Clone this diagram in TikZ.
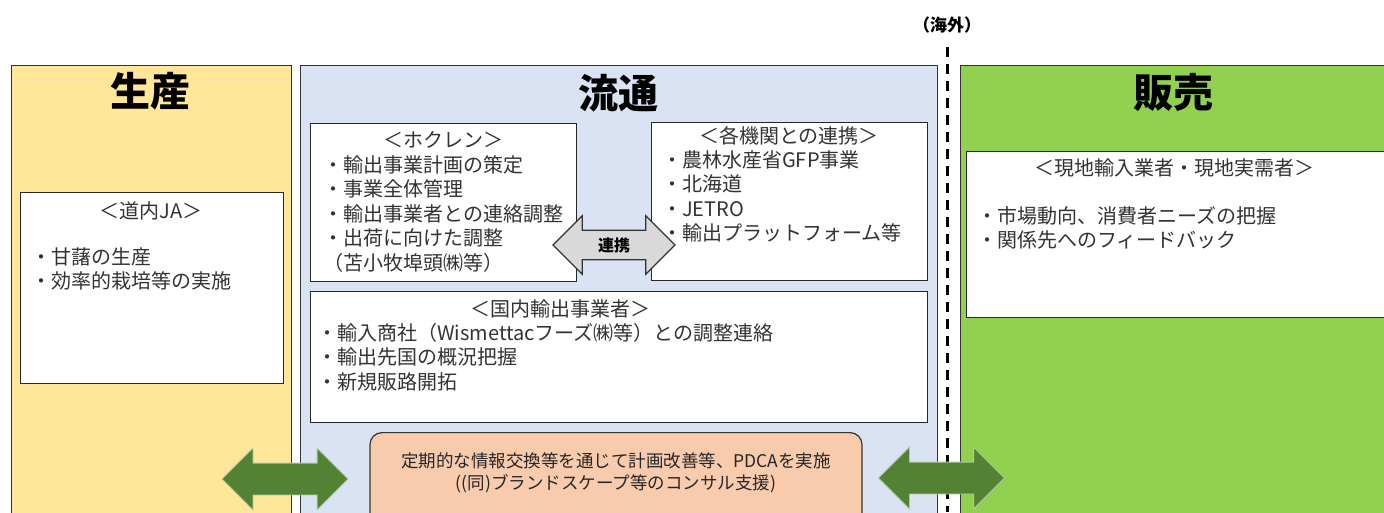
\documentclass[tikz,border=0pt]{standalone}
\usepackage{fontspec}
\setmainfont{Noto Sans CJK JP}
\usetikzlibrary{shapes.arrows,positioning}
\definecolor{prodyellow}{HTML}{FFE699}
\definecolor{distblue}{HTML}{DAE3F3}
\definecolor{salegreen}{HTML}{92D050}
\definecolor{pdcaorange}{HTML}{F8CBAD}
\definecolor{flowgreen}{HTML}{548235}
\definecolor{linkgray}{HTML}{D9D9D9}

\begin{document}
\begin{tikzpicture}[x=1pt,y=-1pt,
  panel/.style={draw=black!80,line width=1.2pt,anchor=north west,inner sep=0},
  box/.style={draw=black!85,fill=white,line width=1.2pt,anchor=north west,inner sep=0},
  title/.style={font=\fontsize{40}{40}\selectfont\bfseries,inner sep=0},
  head/.style={font=\fontsize{20}{24.5}\selectfont,text=black!80,inner sep=0},
  body/.style={font=\fontsize{20}{24.5}\selectfont,text=black!80,align=left,anchor=north west,inner sep=0},
  flow/.style={double arrow,fill=flowgreen,draw=flowgreen!45!white,line width=0.8pt,double arrow tip angle=90,
    double arrow head extend=15pt,minimum height=126pt,inner xsep=0,inner ysep=15.5pt},
  link/.style={double arrow,fill=linkgray,draw=black!80,line width=1.2pt,double arrow tip angle=90,
    double arrow head extend=14.5pt,minimum height=122pt,inner xsep=0,inner ysep=6.5pt,
    font=\fontsize{16}{16}\selectfont\bfseries}]
\useasboundingbox (0,0) rectangle (1384,512);
\clip (0,0) rectangle (1384,512);

% three panels
\node[panel,fill=prodyellow,minimum width=280pt,minimum height=480pt] (prod) at (11,65) {};
\node[panel,fill=distblue,minimum width=637pt,minimum height=480pt] (dist) at (300,65) {};
\node[panel,fill=salegreen,minimum width=440pt,minimum height=480pt] (sale) at (960,65) {};
\node[title] (prodtitle) at (150,91) {生産};
\node[title] (disttitle) at (618,93) {流通};
\node[title] (saletitle) at (1173,92) {販売};

% domestic / overseas border
\node[font=\fontsize{17}{17}\selectfont\bfseries,inner sep=0] (abroad) at (947,25) {（海外）};
\coordinate (bordertop) at (947,47);
\coordinate (borderbot) at (947,512);
\draw[line width=3pt,dash pattern=on 10pt off 7pt] (bordertop) -- (borderbot);

% white boxes
\node[box,minimum width=263pt,minimum height=191pt] (ja) at (20,192) {};
\node[box,minimum width=266pt,minimum height=158pt] (hokuren) at (310,123) {};
\node[box,minimum width=276pt,minimum height=158pt] (kikan) at (651,122) {};
\node[box,minimum width=617pt,minimum height=131pt] (kokunai) at (310,291) {};
\node[box,minimum width=440pt,minimum height=166pt] (genchi) at (966,151) {};

\node[head] (jahead) at (151,211) {＜道内JA＞};
\node[body] (jabody) at (31,247) {・甘藷の生産\\・効率的栽培等の実施};

\node[head] (hokurenhead) at (443,140) {＜ホクレン＞};
\node[body] (hokurenbody) at (323,155) {・輸出事業計画の策定\\・事業全体管理\\・輸出事業者との連絡調整\\・出荷に向けた調整\\（苫小牧埠頭㈱等）};

\node[head] (kikanhead) at (789,136) {＜各機関との連携＞};
\node[body] (kikanbody) at (662,150) {・農林水産省GFP事業\\・北海道\\・JETRO\\・輸出プラットフォーム等};

\node[head] (kokunaihead) at (560,309) {＜国内輸出事業者＞};
\node[body] (kokunaibody) at (317,323) {・輸入商社（Wismettacフーズ㈱等）との調整連絡\\・輸出先国の概況把握\\・新規販路開拓};

\node[head] (genchihead) at (1174,168) {＜現地輸入業者・現地実需者＞};
\node[body] (genchibody) at (977,206) {・市場動向、消費者ニーズの把握\\・関係先へのフィードバック};

% PDCA box
\node[fill=pdcaorange,draw=black!80,line width=1.2pt,rounded corners=12pt,minimum width=492pt,
  minimum height=100pt,anchor=north,inner sep=0] (pdca) at (616,432) {};
\node[font=\fontsize{17.5}{22}\selectfont,text=black!85,align=center,inner sep=0] (pdcatext) at (616,473)
  {定期的な情報交換等を通じて計画改善等、PDCAを実施\\((同)ブランドスケープ等のコンサル支援)};

% arrows
\node[link] (renkei) at (614,245) {連携};
\node[flow] (leftflow) at (285,479) {};
\node[flow] (rightflow) at (941.5,478) {};
\end{tikzpicture}
\end{document}
